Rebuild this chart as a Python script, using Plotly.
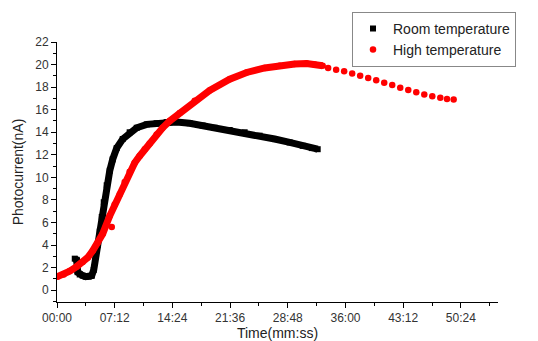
import plotly.graph_objects as go

# ---------------- data (time in seconds, photocurrent in nA) ----------------
room_t = [133, 147, 155, 170, 192, 215, 237, 260, 275, 290, 305, 320, 335, 350,
          372, 395, 417, 447, 492, 544, 597, 672, 746, 821, 896, 993, 1090, 1180,
          1293, 1405, 1517, 1630, 1742, 1840, 1908, 1952]
room_v = [2.8, 2.7, 1.6, 1.4, 1.3, 1.2, 1.2, 1.3, 1.8, 3.0, 4.0, 5.2, 6.5, 7.8,
          9.3, 10.6, 11.6, 12.6, 13.4, 14.0, 14.4, 14.7, 14.8, 14.9, 14.9, 14.8, 14.6, 14.4,
          14.2, 14.0, 13.7, 13.4, 13.1, 12.8, 12.6, 12.5]

high_t_dense = [0, 50, 95, 147, 192, 230, 267, 305, 342, 395, 432, 470, 507, 544,
                582, 619, 657, 694, 746, 791, 844, 919, 1031, 1143, 1293, 1420,
                1555, 1667, 1779, 1869, 1929, 1989]
high_v_dense = [1.2, 1.4, 1.7, 2.1, 2.5, 2.9, 3.5, 4.2, 5.0, 6.6, 7.6, 8.5, 9.6, 10.5,
                11.3, 11.9, 12.5, 13.0, 13.8, 14.4, 15.0, 15.7, 16.8, 17.7, 18.7, 19.3,
                19.7, 19.9, 20.05, 20.1, 20.0, 19.9]
high_t_tail = [410, 2030, 2090, 2150, 2210, 2270, 2330, 2390, 2450, 2510, 2570, 2630,
               2690, 2750, 2810, 2870, 2920, 2970]
high_v_tail = [5.6, 19.7, 19.55, 19.4, 19.2, 19.0, 18.8, 18.6, 18.4, 18.2, 17.95, 17.75,
               17.55, 17.35, 17.2, 17.05, 16.95, 16.9]

x_tick_vals = [0, 432, 864, 1296, 1728, 2160, 2592, 3024]
x_tick_text = ["00:00", "07:12", "14:24", "21:36", "28:48", "36:00", "43:12", "50:24"]
y_tick_vals = [0, 2, 4, 6, 8, 10, 12, 14, 16, 18, 20, 22]

FONT = "Arial, Liberation Sans, sans-serif"

fig = go.Figure()

# black: dense squares
fig.add_trace(go.Scatter(x=room_t, y=room_v, mode="lines",
                         line=dict(color="black", width=7), showlegend=False,
                         hoverinfo="skip"))
fig.add_trace(go.Scatter(x=room_t, y=room_v, mode="markers", name="Room temperature",
                         marker=dict(symbol="square", color="black", size=6)))

# red: dense part + sparse dots
fig.add_trace(go.Scatter(x=high_t_dense, y=high_v_dense, mode="lines",
                         line=dict(color="#ff0000", width=7), showlegend=False,
                         hoverinfo="skip"))
fig.add_trace(go.Scatter(x=high_t_dense + high_t_tail, y=high_v_dense + high_v_tail,
                         mode="markers", name="High temperature",
                         marker=dict(symbol="circle", color="#ff0000", size=6.5)))

fig.update_layout(
    width=538, height=341,
    margin=dict(l=57, r=40, t=35, b=39),
    paper_bgcolor="white", plot_bgcolor="white",
    font=dict(family=FONT, size=12, color="#333333"),
    legend=dict(x=(352 - 57) / 441, y=(302 - 4) / 267, xanchor="left", yanchor="top",
                bordercolor="#888888", borderwidth=1, bgcolor="white",
                font=dict(family=FONT, size=14, color="#222222"),
                tracegroupgap=0, itemwidth=30),
    xaxis=dict(range=[0, 3302], tickmode="array", tickvals=x_tick_vals,
               ticktext=x_tick_text, ticks="outside", ticklen=5, tickwidth=1,
               tickcolor="black", showline=True, linecolor="black", linewidth=1,
               showgrid=False, zeroline=False, automargin=False,
               minor=dict(dtick=216, tick0=0, ticks="outside", ticklen=3,
                          tickcolor="black", showgrid=False),
               title=dict(text="Time(mm:ss)", font=dict(family=FONT, size=14, color="#222222"),
                          standoff=4)),
    yaxis=dict(range=[-1.04, 22], tickmode="array", tickvals=y_tick_vals,
               ticks="outside", ticklen=5, tickwidth=1, tickcolor="black",
               showline=True, linecolor="black", linewidth=1,
               showgrid=False, zeroline=False, automargin=False,
               minor=dict(dtick=1, tick0=0, ticks="outside", ticklen=3,
                          tickcolor="black", showgrid=False),
               title=dict(text="Photocurrent(nA)", font=dict(family=FONT, size=14, color="#222222"),
                          standoff=8)),
)

fig.write_html("out.html", config={"displayModeBar": False},
               post_script="document.body.style.margin='0px';")
